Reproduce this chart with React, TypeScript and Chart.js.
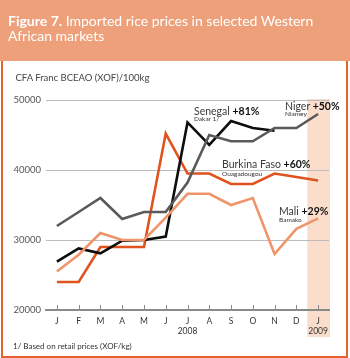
import React, { useEffect, useRef } from "react";
import { Chart, registerables } from "chart.js";

Chart.register(...registerables);

const months = ["J", "F", "M", "A", "M", "J", "J", "A", "S", "O", "N", "D", "J"];
const years = ["", "", "", "", "", "", "2008", "", "", "", "", "", "2009"];
const yTicks = [20000, 30000, 40000, 50000];

const senegal = [26900, 28800, 28100, 29900, 30000, 30500, 46800, 43600, 47000, 46000, 45600, null, null];
const niger = [32000, 34000, 36000, 33000, 34000, 34000, 38200, 45000, 44100, 44100, 46000, 46000, 48000];
const burkina = [24000, 24000, 29000, 29000, 29000, 45200, 39500, 39500, 38000, 38000, 39500, 39000, 38500];
const mali = [25500, 27900, 31000, 30000, 30000, 33200, 36600, 36600, 35000, 36000, 28000, 31600, 33100];

const FONT = "Lato, 'Open Sans', sans-serif";

const bandPlugin = {
  id: "band",
  beforeDraw(chart: any) {
    const { ctx, chartArea, scales } = chart;
    const x = scales.x;
    const last = months.length - 1;
    const step = x.getPixelForValue(last) - x.getPixelForValue(last - 1);
    const left = x.getPixelForValue(last) - step / 2;
    ctx.save();
    ctx.fillStyle = "#FBDDCB";
    ctx.fillRect(left, chartArea.top - 1, chartArea.right - left + 1, chartArea.bottom - chartArea.top + 28);
    ctx.restore();
  },
  afterDatasetsDraw(chart: any) {
    const { ctx, chartArea, scales } = chart;
    const x = scales.x;
    ctx.save();
    ctx.strokeStyle = "#8a8a8a";
    ctx.lineWidth = 1;
    months.forEach((_, i) => {
      const px = Math.round(x.getPixelForValue(i)) + 0.5;
      ctx.beginPath();
      ctx.moveTo(px, chartArea.bottom - 5);
      ctx.lineTo(px, chartArea.bottom);
      ctx.stroke();
    });
    ctx.restore();
  },
};

const T = (fs: number, baseline: number) => baseline - 0.887 * fs;

function Label(props: { left: number; base: number; name: string; pct: string; sub: string; subBase: number }) {
  return (
    <>
      <div style={{ position: "absolute", left: props.left, top: T(10.5, props.base), fontSize: 10.5, lineHeight: 1, whiteSpace: "nowrap", color: "#3a3a3a" }}>
        {props.name} <b style={{ color: "#111" }}>{props.pct}</b>
      </div>
      <div style={{ position: "absolute", left: props.left, top: T(6.5, props.subBase), fontSize: 6.5, lineHeight: 1, whiteSpace: "nowrap", color: "#333" }}>
        {props.sub}
      </div>
    </>
  );
}

export default function App() {
  const ref = useRef<HTMLCanvasElement>(null);
  useEffect(() => {
    document.body.style.margin = "0";
    const labels = months.map((m, i) => (years[i] ? [m, years[i]] : m));
    const ds = (data: any[], color: string) => ({
      data,
      borderColor: color,
      borderWidth: 2.6,
      pointRadius: 0,
      tension: 0,
      fill: false,
      spanGaps: false,
    });
    const chart = new Chart(ref.current!, {
      type: "line",
      data: {
        labels,
        datasets: [
          ds(mali, "#F0956B"),
          ds(niger, "#5a5a5a"),
          ds(senegal, "#0d0d0d"),
          ds(burkina, "#E0531F"),
        ],
      },
      options: {
        animation: false,
        responsive: false,
        layout: { padding: { left: 0, top: 100, right: 21, bottom: 0 } },
        plugins: { legend: { display: false }, tooltip: { enabled: false }, title: { display: false } },
        scales: {
          x: {
            type: "category",
            offset: true,
            grid: { display: false, drawTicks: false },
            border: { display: true, color: "#8a8a8a", width: 2 },
            ticks: {
              padding: 6,
              font: { family: FONT, size: 8.5 },
              color: "#333",
              maxRotation: 0,
              autoSkip: false,
            },
            afterFit: (s: any) => {
              s.height = 48;
            },
          },
          y: {
            min: 20000,
            max: 50000,
            afterBuildTicks: (s: any) => {
              s.ticks = yTicks.map((v) => ({ value: v }));
            },
            grid: { color: "#bdbdbd", lineWidth: 1, drawTicks: false },
            border: { display: false },
            ticks: {
              padding: 5,
              font: { family: FONT, size: 9.5 },
              color: "#555",
              callback: (v: any) => String(v),
            },
            afterFit: (s: any) => {
              s.width = 46;
            },
          },
        },
      },
      plugins: [bandPlugin],
    });
    return () => chart.destroy();
  }, []);

  return (
    <div style={{ position: "relative", width: 350, height: 358, background: "#fff", fontFamily: FONT, overflow: "hidden" }}>
      <div style={{ position: "absolute", left: 0, top: 0, width: 350, height: 61, background: "#EEA07A" }} />
      <div
        style={{
          position: "absolute",
          left: 1,
          top: 61,
          width: 347,
          height: 297,
          boxSizing: "border-box",
          borderLeft: "2px solid #E2632D",
          borderRight: "2px solid #E2632D",
          borderBottom: "2px solid #E2632D",
        }}
      />
      <canvas ref={ref} width={350} height={358} style={{ position: "absolute", left: 0, top: 0 }} />
      <div style={{ position: "absolute", left: 8, top: T(14, 25.7), fontSize: 14, lineHeight: "15px", color: "#fff", whiteSpace: "nowrap" }}>
        <b>Figure 7.</b> Imported rice prices in selected Western
        <br />
        African markets
      </div>
      <div style={{ position: "absolute", left: 15.5, top: T(9.5, 81.7), fontSize: 9.5, lineHeight: 1, color: "#444", whiteSpace: "nowrap" }}>
        CFA Franc BCEAO (XOF)/100kg
      </div>
      <Label left={194} base={115} name="Senegal" pct="+81%" sub="Dakar 1/" subBase={122} />
      <Label left={285} base={110} name="Niger" pct="+50%" sub="Niamey" subBase={117} />
      <Label left={222} base={168.7} name="Burkina Faso" pct="+60%" sub="Ouagadougou" subBase={176.7} />
      <Label left={279} base={215} name="Mali" pct="+29%" sub="Bamako" subBase={223} />
      <div style={{ position: "absolute", left: 13, top: T(8, 349), fontSize: 8, lineHeight: 1, color: "#333", whiteSpace: "nowrap" }}>
        1/ Based on retail prices (XOF/kg)
      </div>
    </div>
  );
}
